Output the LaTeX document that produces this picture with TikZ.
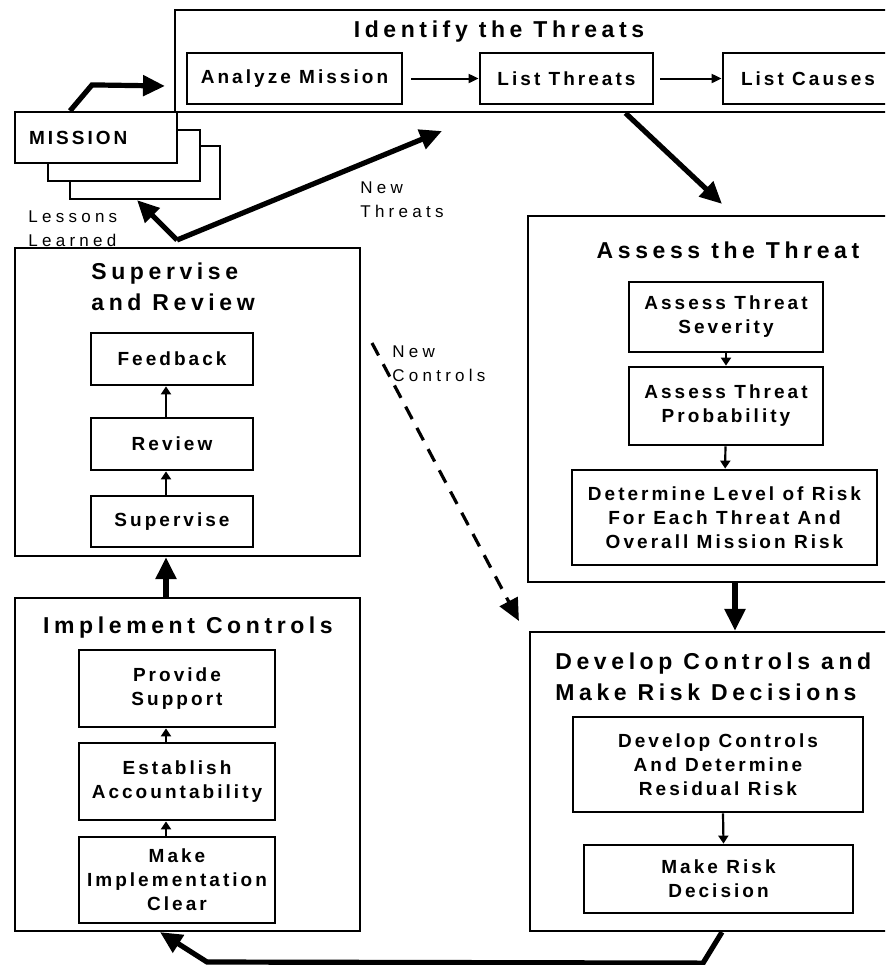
\documentclass[tikz,border=0pt]{standalone}
\usepackage{fontspec}
\setmainfont{Liberation Sans}
\newfontfamily\boxfam{Liberation Sans}[LetterSpace=16]
\newfontfamily\headfam{Liberation Sans}[LetterSpace=20]
\newfontfamily\notefam{Liberation Sans}[LetterSpace=25]
\usetikzlibrary{arrows.meta}

\begin{document}
\begin{tikzpicture}[x=0.5pt, y=-0.5pt,
  frame/.style={draw, line width=1.1pt, inner sep=0pt},
  stepbox/.style={draw, line width=1.4pt, fill=white, inner sep=0pt, align=center,
    font=\boxfam\bfseries\fontsize{9.5}{12}\selectfont},
  head/.style={inner sep=0pt, align=center, font=\headfam\bfseries\fontsize{11.5}{15.5}\selectfont},
  note/.style={inner sep=0pt, align=left, anchor=west, font=\notefam\fontsize{8.5}{12}\selectfont},
  flow/.style={line width=2.6pt, -{Triangle[length=11pt,width=10pt]}},
  link/.style={line width=1pt, -{Triangle[length=5pt,width=4.5pt]}},
  up/.style={line width=1.1pt, -{Triangle[length=4pt,width=5pt]}}]
  \path[use as bounding box, clip] (0,0) rectangle (885,965);

  % identify the threats
  \node[frame, minimum width=362.5pt, minimum height=51pt] (identify) at (537.5,61) {};
  \node[head] (identifyT) at (499,32) {Identify the Threats};
  \node[stepbox, minimum width=107.5pt, minimum height=25.5pt] (analyze) at (294.5,78.5) {Analyze Mission};
  \node[stepbox, minimum width=86.5pt, minimum height=25.5pt] (listthr) at (566.5,78.5) {List Threats};
  \node[stepbox, minimum width=85pt, minimum height=25.5pt] (listcau) at (808,78.5) {List Causes};

  % mission stack
  \node[stepbox, line width=1.1pt, minimum width=75pt, minimum height=26.5pt] (mission3) at (145,172.5) {};
  \node[stepbox, line width=1.1pt, minimum width=76pt, minimum height=25.5pt] (mission2) at (124,155.5) {};
  \node[stepbox, line width=1.1pt, minimum width=81pt, minimum height=25.5pt, text width=67pt, align=left] (mission) at (96,137.5) {MISSION};

  % supervise and review
  \node[frame, minimum width=172.5pt, minimum height=154pt] (supervise) at (187.5,402) {};
  \node[head, anchor=west, align=left] (superviseT) at (91,286.5) {Supervise\\and Review};
  \node[stepbox, minimum width=81pt, minimum height=26pt] (feedback) at (172,359) {Feedback};
  \node[stepbox, minimum width=81pt, minimum height=26pt] (review) at (172,444) {Review};
  \node[stepbox, minimum width=81pt, minimum height=25.5pt] (superv) at (172,521.5) {Supervise};

  % implement controls
  \node[frame, minimum width=172.5pt, minimum height=166.5pt] (implement) at (187.5,764.5) {};
  \node[head] (implementT) at (188,628) {Implement Controls};
  \node[stepbox, minimum width=98pt, minimum height=38.5pt] (support) at (177,688.5) {Provide\\Support};
  \node[stepbox, minimum width=98pt, minimum height=38.5pt] (account) at (177,781.5) {Establish\\Accountability};
  \node[stepbox, minimum width=98pt, minimum height=43pt] (clear) at (177,880) {Make\\Implementation\\Clear};

  % assess the threat
  \node[frame, minimum width=186pt, minimum height=183pt] (assess) at (714,399) {};
  \node[head] (assessT) at (728,250) {Assess the Threat};
  \node[stepbox, minimum width=97pt, minimum height=35pt] (severity) at (726,317) {Assess Threat\\Severity};
  \node[stepbox, minimum width=97pt, minimum height=39pt] (prob) at (726,406) {Assess Threat\\Probability};
  \node[stepbox, minimum width=152.5pt, minimum height=47.5pt] (level) at (724.5,517.5) {Determine Level of Risk\\For Each Threat And\\Overall Mission Risk};

  % develop controls
  \node[frame, minimum width=185pt, minimum height=149.5pt] (develop) at (715,781.5) {};
  \node[head, anchor=west, align=left] (developT) at (555,677) {Develop Controls and\\Make Risk Decisions};
  \node[stepbox, minimum width=145pt, minimum height=47.5pt] (residual) at (718,764.5) {Develop Controls\\And Determine\\Residual Risk};
  \node[stepbox, minimum width=134.5pt, minimum height=34pt] (decision) at (718.5,879) {Make Risk\\Decision};

  % side labels
  \node[note] (lessons) at (28,229) {Lessons\\Learned};
  \node[note] (newthr) at (360,200) {New\\Threats};
  \node[note] (newctl) at (392,364) {New\\Controls};

  % connectors
  \draw[link, shorten <=4pt] (analyze) -- (listthr);
  \draw[link, shorten <=3pt] (listthr) -- (listcau);
  \coordinate (mtip) at (165,86);
  \draw[flow] ([xshift=-13pt]mission.north) -- ++(22,-26) -- (mtip);
  \coordinate (fork) at (177,240);
  \coordinate (ntip) at (442,131);
  \draw[flow] (fork) -- ([xshift=-4pt]mission3.south);
  \draw[flow] (fork) -- (ntip);
  \draw[flow] ([xshift=44pt]identify.south) -- ([shift={(4pt,5.5pt)}]assess.north);
  \draw[flow] ([xshift=10.5pt]assess.south) -- ([xshift=10pt]develop.north);
  \coordinate (nc) at (372,343);
  \draw[flow, line width=1.6pt, dash pattern=on 7pt off 5pt] (nc) -- ([shift={(-5pt,5pt)}]develop.north west);
  \draw[flow] ([xshift=3.5pt]develop.south) -- ++(-19,31) -- (207,962) -- ([xshift=-13.75pt]implement.south);
  \draw[flow] ([xshift=-10.75pt]implement.north) -- ([xshift=-10.75pt]supervise.south);

  \draw[up] ([xshift=-3pt]superv.north) -- ([xshift=-3pt]review.south);
  \draw[up] ([xshift=-3pt]review.north) -- ([xshift=-3pt]feedback.south);
  \draw[up] ([xshift=-5.5pt]clear.north) -- ([xshift=-5.5pt]account.south);
  \draw[up] ([xshift=-5.5pt]account.north) -- ([xshift=-5.5pt]support.south);
  \draw[up] (severity) -- (prob);
  \draw[up] (prob) -- (level);
  \draw[up] ([xshift=2.5pt]residual.south) -- ([xshift=2.5pt]decision.north);
\end{tikzpicture}
\end{document}
